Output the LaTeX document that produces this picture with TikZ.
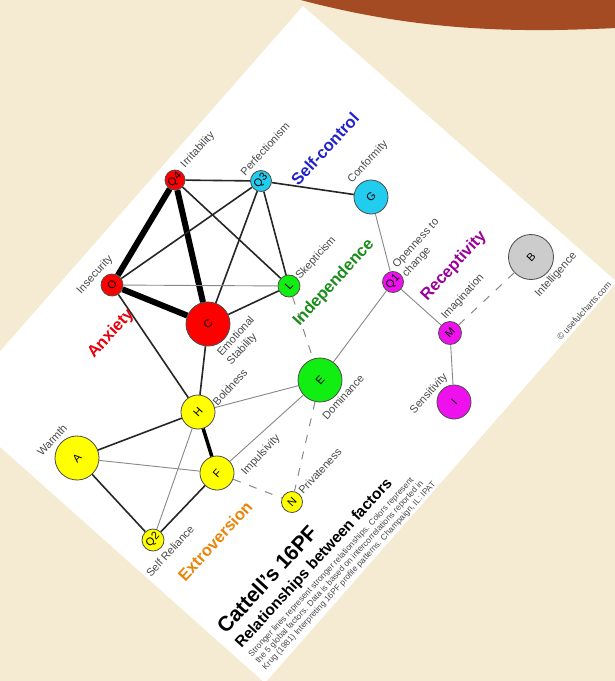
\documentclass[tikz,border=0pt]{standalone}
\usepackage{fontspec}
\setmainfont{Liberation Sans}
\definecolor{bgc}{HTML}{F5EBD3}
\definecolor{brownc}{HTML}{A54B24}
\definecolor{lblc}{HTML}{4A4A4A}
\definecolor{nred}{HTML}{FF0000}
\definecolor{ncyan}{HTML}{22CCEE}
\definecolor{ngreen}{HTML}{11EE11}
\definecolor{nmag}{HTML}{EE11EE}
\definecolor{nyel}{HTML}{FFFF00}
\definecolor{ngray}{HTML}{CCCCCC}
\definecolor{tanx}{HTML}{E8000B}
\definecolor{tself}{HTML}{2222CC}
\definecolor{tind}{HTML}{1A8C1A}
\definecolor{trec}{HTML}{990099}
\definecolor{text}{HTML}{E8860B}
\definecolor{thinc}{HTML}{888888}
\begin{document}
\begin{tikzpicture}[x=1pt,y=-1pt,
  nd/.style={circle,draw=black!70,line width=0.8pt,inner sep=0pt,minimum size=#1,
    font=\fontsize{11}{11}\selectfont,rotate=47.5},
  lbl/.style={inner sep=0pt,rotate=47.5,text=lblc,font=\fontsize{11}{13}\selectfont,align=left},
  fac/.style={inner sep=0pt,rotate=47.5,font=\bfseries\fontsize{16.5}{18}\selectfont},
  wsix/.style={line width=6pt,black},
  wthree/.style={line width=3.5pt,black},
  wtwo/.style={line width=1.6pt,black!85},
  wone/.style={line width=0.9pt,thinc},
  wdash/.style={line width=1pt,thinc,dash pattern=on 8pt off 9pt}]
\useasboundingbox (0,0) rectangle (615,681);
\fill[bgc] (0,0) rectangle (615,681);
\fill[brownc] (297,-1) .. controls (390,24) and (470,31) .. (555,30) .. controls (585,29.5) and (605,28.5) .. (616,28) -- (616,-1) -- cycle;
\begin{scope}
\clip (0,0) rectangle (615,681);
\fill[white] (303,6) -- (617,282) -- (265,683) -- (-47,405) -- cycle;
\end{scope}
% nodes
\node[nd=20,fill=nred] (Q4) at (175,180) {Q4};
\node[nd=21,fill=ncyan] (Q3) at (261,181) {Q3};
\node[nd=34,fill=ncyan] (G) at (371,197) {G};
\node[nd=22,fill=nred] (O) at (112,285) {O};
\node[nd=44,fill=nred] (C) at (208,324) {C};
\node[nd=22,fill=ngreen] (L) at (289,286) {L};
\node[nd=21,fill=nmag] (Q1) at (393,282) {Q1};
\node[nd=45,fill=ngray] (B) at (531,257) {B};
\node[nd=23,fill=nmag] (M) at (450,333) {M};
\node[nd=34,fill=nmag] (I) at (454,402) {I};
\node[nd=44,fill=ngreen] (E) at (320,380) {E};
\node[nd=34,fill=nyel] (H) at (198,412) {H};
\node[nd=44,fill=nyel] (A) at (77,458) {A};
\node[nd=34,fill=nyel] (F) at (217,473) {F};
\node[nd=21,fill=nyel] (N) at (292,502) {N};
\node[nd=22,fill=nyel] (Q2) at (153,540) {Q2};
% edges
\draw[wsix] (Q4) -- (O);
\draw[wsix] (Q4) -- (C);
\draw[wsix] (O) -- (C);
\draw[wthree] (H) -- (F);
\draw[wtwo] (Q4) -- (Q3);
\draw[wtwo] (Q4) -- (L);
\draw[wtwo] (O) -- (Q3);
\draw[wtwo] (C) -- (Q3);
\draw[wtwo] (Q3) -- (L);
\draw[wtwo] (Q3) -- (G);
\draw[wtwo] (C) -- (L);
\draw[wtwo] (O) -- (H);
\draw[wtwo] (C) -- (H);
\draw[wtwo] (H) -- (A);
\draw[wtwo] (A) -- (Q2);
\draw[wtwo] (Q2) -- (F);
\draw[wone] (O) -- (L);
\draw[wone] (G) -- (Q1);
\draw[wone] (Q1) -- (E);
\draw[wone] (Q1) -- (M);
\draw[wone] (M) -- (I);
\draw[wone] (H) -- (E);
\draw[wone] (F) -- (E);
\draw[wone] (A) -- (F);
\draw[wone] (H) -- (Q2);
\draw[wdash] (M) -- (B);
\draw[wdash] (L) -- (E);
\draw[wdash] (E) -- (N);
\draw[wdash] (F) -- (N);
% labels
\node[lbl] (lQ4) at (198,150) {Irritability};
\node[lbl] (lQ3) at (265,149) {Perfectionism};
\node[lbl] (lG) at (368,162) {Conformity};
\node[lbl] (lO) at (95,275) {Insecurity};
\node[lbl] (lC) at (241,341) {Emotional\\Stability};
\node[lbl] (lL) at (316,258) {Skepticism};
\node[lbl] (lQ1) at (421,248) {Openness to\\change};
\node[lbl] (lM) at (463,297) {Imagination};
\node[lbl] (lB) at (556,275) {Intelligence};
\node[lbl,font=\fontsize{8.8}{10}\selectfont] (copy) at (584,311) {\textcopyright\ usefulcharts.com};
\node[lbl] (lH) at (230,387) {Boldness};
\node[lbl] (lE) at (343,397) {Dominance};
\node[lbl] (lI) at (429,394) {Sensitivity};
\node[lbl] (lA) at (52,440) {Warmth};
\node[lbl] (lF) at (261,455) {Impulsivity};
\node[lbl] (lN) at (320,471) {Privateness};
\node[lbl] (lQ2) at (170,551) {Self Reliance};
% factor labels
\node[fac,text=tanx] (fanx) at (111,334) {Anxiety};
\node[fac,text=tself] (fself) at (325,149) {Self-control};
\node[fac,text=tind] (find) at (334,283) {Independence};
\node[fac,text=trec] (frec) at (454,266) {Receptivity};
\node[fac,text=text] (fext) at (215,541) {Extroversion};
% title
\node[inner sep=0pt,rotate=47.5,anchor=base west,font=\bfseries\fontsize{21}{24}\selectfont] (t1) at (226,635) {Cattell's 16PF};
\node[inner sep=0pt,rotate=47.5,anchor=base west,font=\bfseries\fontsize{15.5}{18}\selectfont] (t2) at (241.5,649) {Relationships between factors};
\node[inner sep=0pt,rotate=47.5,anchor=north west,align=left,text=lblc,font=\fontsize{8.4}{9.5}\selectfont] (s1) at (247.2,653.2) {Stronger lines represent stronger relationships. Colors represent\\the 5 global factors. Data is based on intercorrelations reported in\\Krug (1981) Interpreting 16PF profile patterns. Champaign, IL: IPAT};
\end{tikzpicture}
\end{document}
